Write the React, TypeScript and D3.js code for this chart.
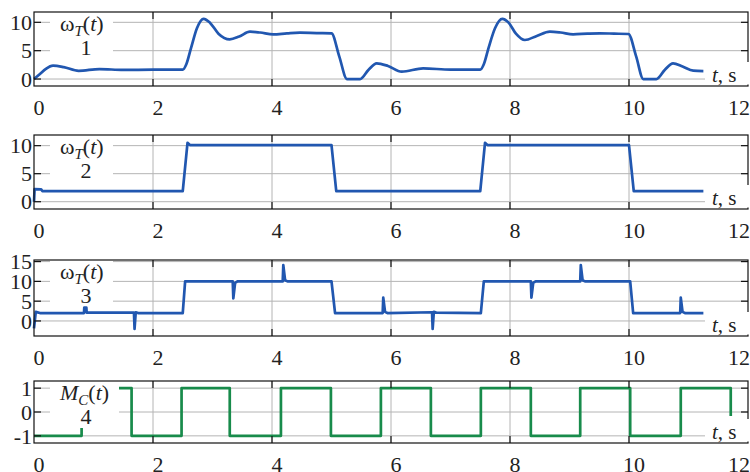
import React from 'react';
import * as d3 from 'd3';

// time axis
const xTicks = [0, 2, 4, 6, 8, 10, 12];

// 1: smooth speed response
const w1T = [0, 0.1, 0.2, 0.32, 0.5, 0.75, 1.1, 1.5, 2.0, 2.5,
  2.56, 2.64, 2.74, 2.85, 2.96, 3.1, 3.29, 3.45, 3.63, 3.8, 4.02, 4.25, 4.47, 4.75, 5.0,
  5.13, 5.26, 5.48, 5.62, 5.76, 5.95, 6.18, 6.54, 7.0, 7.5,
  7.56, 7.64, 7.75, 7.87, 7.98, 8.1, 8.25, 8.45, 8.67, 8.85, 9.06, 9.3, 9.51, 9.75, 9.99,
  10.12, 10.24, 10.46, 10.6, 10.74, 10.9, 11.08, 11.25];
const w1V = [0, 0.9, 1.8, 2.35, 2.1, 1.45, 1.76, 1.6, 1.65, 1.65,
  2.6, 5.5, 9.0, 10.6, 9.9, 8.0, 7.0, 7.5, 8.35, 8.2, 7.88, 8.05, 8.17, 8.1, 8.06,
  4.0, 0, 0, 1.6, 2.77, 2.3, 1.3, 1.88, 1.65, 1.65,
  2.6, 5.5, 9.0, 10.6, 9.9, 8.0, 6.88, 7.6, 8.35, 8.2, 7.88, 8.0, 8.06, 8.0, 7.94,
  4.0, 0, 0, 1.6, 2.77, 2.2, 1.47, 1.41];

// 2: step response
const w2T = [0, 0.01, 0.12, 0.14, 2.5, 2.58, 2.62, 5.0, 5.08, 7.5, 7.58, 7.62, 10.0, 10.08, 11.25];
const w2V = [0, 2.25, 2.2, 1.9, 1.9, 10.5, 10.1, 10.1, 1.9, 1.9, 10.5, 10.1, 10.1, 1.9, 1.9];

// 3: step response with load spikes
const w3T = [0, 0.03, 0.1, 0.84, 0.845, 0.88, 0.885, 1.68, 1.69, 1.71, 1.75, 2.5, 2.54,
  3.34, 3.35, 3.38, 3.42, 4.18, 4.19, 4.22, 4.26, 5.0, 5.06,
  5.86, 5.87, 5.9, 5.94, 6.69, 6.7, 6.72, 6.76, 7.51, 7.56,
  8.35, 8.36, 8.39, 8.43, 9.18, 9.19, 9.22, 9.26, 10.02, 10.07,
  10.86, 10.87, 10.9, 10.94, 11.25];
const w3V = [-1.85, 2.3, 2.0, 2.0, 3.4, 3.4, 2.1, 2.1, -2.0, 2.2, 2.0, 2.0, 10.0,
  10.0, 5.7, 9.6, 10.0, 10.0, 14.1, 10.3, 10.0, 10.0, 2.0,
  2.0, 5.9, 2.3, 2.0, 2.2, -2.0, 2.3, 2.1, 2.0, 10.0,
  10.0, 5.9, 9.6, 10.0, 10.0, 14.1, 10.3, 10.0, 10.0, 2.0,
  2.0, 5.9, 2.3, 2.0, 2.0];

// 4: load torque square wave
const mcT = [0, 0.8, 1.64, 2.48, 3.29, 4.15, 4.99, 5.83, 6.67, 7.51, 8.35, 9.18, 10.02, 10.87, 11.71];
const mcV = [-1, 1, -1, 1, -1, 1, -1, 1, -1, 1, -1, 1, -1, 1, -0.17];

const panels = [
  { top: 12, bottom: 86, dom: [-1.23, 11.82], ticks: [0, 5, 10], t: w1T, v: w1V, color: '#2157b0', curve: d3.curveMonotoneX, sym: 'w', num: '1', boxR: 113 },
  { top: 135, bottom: 209, dom: [-1.3, 11.9], ticks: [0, 5, 10], t: w2T, v: w2V, color: '#2157b0', curve: d3.curveLinear, sym: 'w', num: '2', boxR: 113 },
  { top: 260, bottom: 336, dom: [-3.8, 15.4], ticks: [0, 5, 10, 15], t: w3T, v: w3V, color: '#2157b0', curve: d3.curveLinear, sym: 'w', num: '3', boxR: 113 },
  { top: 381, bottom: 443, dom: [-1.3, 1.3], ticks: [-1, 0, 1], t: mcT, v: mcV, color: '#188b4b', curve: d3.curveStepAfter, sym: 'm', num: '4', boxR: 119 },
];

const W = 750, H = 472;
const font = '"Liberation Serif", "Times New Roman", serif';

const x = d3.scaleLinear().domain([0, 12]).range([34, 748]);

function Panel({ p }: { p: any }) {
  const y = d3.scaleLinear().domain(p.dom).range([p.bottom, p.top]);
  const pts = p.t.map((t: number, i: number) => [t, p.v[i]]);
  const line = d3.line<number[]>().x(d => x(d[0])).y(d => y(d[1])).curve(p.curve);
  const boxBottom = p.sym === 'm' ? 428 : p.top + 45;
  return (
    <g>
      {/* grid */}
      {xTicks.slice(1, -1).map(t => (
        <line key={'gx' + t} x1={x(t)} x2={x(t)} y1={p.top} y2={p.bottom} stroke="#b4b4b4" strokeWidth={1} />
      ))}
      {p.ticks.map((t: number) => (
        <line key={'gy' + t} x1={34} x2={748} y1={y(t)} y2={y(t)} stroke="#b4b4b4" strokeWidth={1} />
      ))}
      <path d={line(pts) || ''} fill="none" stroke={p.color} strokeWidth={2.7} strokeLinejoin="round" />
      {/* frame */}
      <rect x={34} y={p.top} width={714} height={p.bottom - p.top} fill="none" stroke="#111" strokeWidth={1.2} />
      {xTicks.slice(1, -1).map(t => (
        <g key={'tx' + t}>
          <line x1={x(t)} x2={x(t)} y1={p.top} y2={p.top + 7} stroke="#111" strokeWidth={1.2} />
          <line x1={x(t)} x2={x(t)} y1={p.bottom} y2={p.bottom - 7} stroke="#111" strokeWidth={1.2} />
        </g>
      ))}
      {p.ticks.map((t: number) => (
        <g key={'ty' + t}>
          <line x1={34} x2={41} y1={y(t)} y2={y(t)} stroke="#111" strokeWidth={1.2} />
          <line x1={748} x2={741} y1={y(t)} y2={y(t)} stroke="#111" strokeWidth={1.2} />
        </g>
      ))}
      {/* label box */}
      <rect x={50} y={p.top + 1} width={p.boxR - 50} height={boxBottom - p.top - 1} fill="#fff" />
      <text x={60} y={p.top + 19} fontFamily={font} fontSize={22} fill="#222">
        {p.sym === 'w' ? <tspan>ω</tspan> : <tspan fontStyle="italic">M</tspan>}
        <tspan fontStyle="italic" fontSize={15} dy={5}>{p.sym === 'w' ? 'T' : 'C'}</tspan>
        <tspan dy={-5}>(</tspan>
        <tspan fontStyle="italic">t</tspan>
        <tspan>)</tspan>
      </text>
      <text x={86} y={p.top + 43} fontFamily={font} fontSize={22} fill="#222" textAnchor="middle">{p.num}</text>
      {/* t, s */}
      <rect x={705} y={p.bottom - 24} width={45} height={22.5} fill="#fff" />
      <text x={712} y={p.bottom - 4} fontFamily={font} fontSize={21} fill="#222">
        <tspan fontStyle="italic">t</tspan>, s
      </text>
      {/* tick labels */}
      {p.ticks.map((t: number) => (
        <text key={'ly' + t} x={32} y={y(t)} dy="0.35em" textAnchor="end" fontFamily={font} fontSize={22} fill="#222">{t}</text>
      ))}
      {xTicks.map(t => (
        <text key={'lx' + t} x={t === 12 ? 750 : x(t) + 5} y={p.bottom + 29}
          textAnchor={t === 12 ? 'end' : 'middle'} fontFamily={font} fontSize={22} fill="#222">{t}</text>
      ))}
    </g>
  );
}

export default function App() {
  return (
    <svg width={W} height={H} style={{ position: 'absolute', left: 0, top: 0, background: '#fff' }}>
      <rect width={W} height={H} fill="#fff" />
      {panels.map(p => <Panel key={p.num} p={p} />)}
    </svg>
  );
}
